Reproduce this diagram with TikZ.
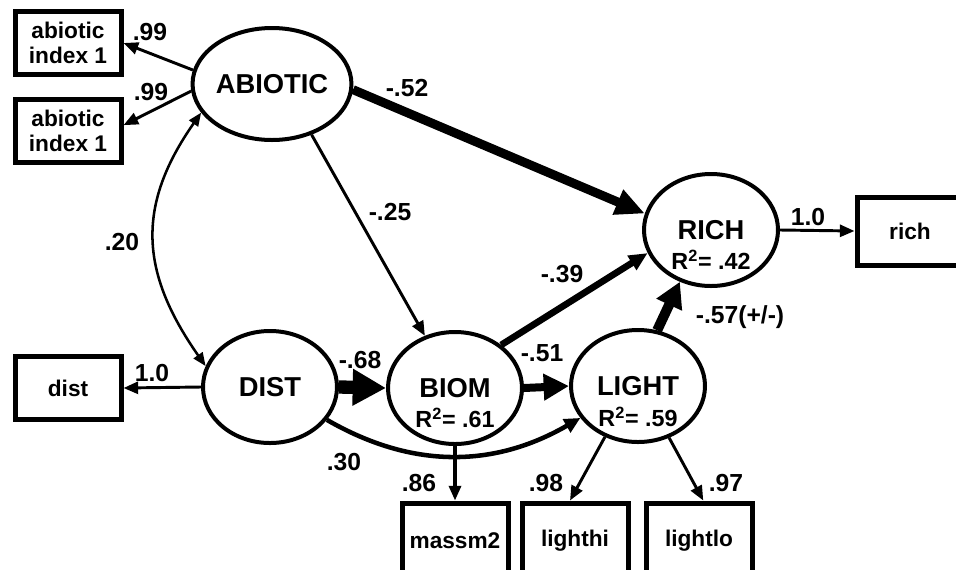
\documentclass[tikz,border=0pt]{standalone}
\usepackage{fontspec}
\setmainfont{Liberation Sans}
\usetikzlibrary{arrows.meta,calc,shapes.geometric}

\begin{document}
\begin{tikzpicture}[x=0.75pt,y=-0.75pt,
  latent/.style={ellipse, draw, line width=3pt, minimum width=100.5pt,
    minimum height=84pt, inner sep=0pt,
    font=\fontsize{20.5}{23}\selectfont\bfseries},
  obs/.style={rectangle, draw, line width=3.75pt, minimum width=79.5pt,
    minimum height=47.25pt, inner sep=0pt, align=center,
    font=\fontsize{17}{19}\selectfont\bfseries},
  rsq/.style={inner sep=0pt, font=\fontsize{17.5}{19}\selectfont\bfseries},
  coef/.style={inner sep=0pt, font=\fontsize{18.5}{20}\selectfont\bfseries},
  thinarrow/.style={line width=2.2pt, -{Triangle[length=11pt,width=9pt]}},
  covarrow/.style={line width=1.9pt,
    {Triangle[length=10pt,width=8pt]}-{Triangle[length=10pt,width=8pt]}},
  pathA/.style={line width=6.75pt, -{Triangle[length=22pt,width=19pt]}},
  pathB/.style={line width=5pt, -{Triangle[length=14pt,width=12pt]}},
  pathC/.style={line width=7.5pt, -{Triangle[length=19pt,width=20pt]}},
  pathD/.style={line width=10pt, -{Triangle[length=25pt,width=26pt]}},
  pathE/.style={line width=6pt, -{Triangle[length=19pt,width=19pt]}},
  pathF/.style={line width=3.4pt, -{Triangle[length=12pt,width=11pt]}},
  pathG/.style={line width=2.4pt, -{Triangle[length=11pt,width=9pt]}},
]
\useasboundingbox (0,0) rectangle (956,569);

% latent variables
\node[latent] (abiotic) at (272,84) {ABIOTIC};
\node[latent] (rich) at (711,230) {RICH};
\node[latent] (dist) at (270,387) {DIST};
\node[latent] (biom) at (455,388) {BIOM};
\node[latent] (light) at (638,386) {LIGHT};

% explained variance
\node[rsq] (rich-r2) at ($(rich)+(0,30)$) {R\textsuperscript{2}= .42};
\node[rsq] (biom-r2) at ($(biom)+(0,30)$) {R\textsuperscript{2}= .61};
\node[rsq] (light-r2) at ($(light)+(0,31)$) {R\textsuperscript{2}= .59};

% indicators
\node[obs] (ind1) at (68,43) {abiotic\\index 1};
\node[obs] (ind2) at (68,131) {abiotic\\index 1};
\node[obs] (distbox) at (68,388) {dist};
\node[obs, minimum height=51pt] (richbox) at (910,231) {rich};
\node[obs, minimum height=57pt] (massm2) at (455,541) {massm2};
\node[obs, minimum height=57pt] (lighthi) at (575,541) {lighthi};
\node[obs, minimum height=57pt] (lightlo) at (699,541) {lightlo};

% measurement paths
\draw[thinarrow] (abiotic.170) -- (ind1.east);
\draw[thinarrow] (abiotic.185) -- (ind2.6);
\draw[thinarrow] (rich.east) -- (richbox.west);
\draw[thinarrow] (dist.west) -- (distbox.east);
\draw[pathG] (biom.south) -- (massm2.north);
\draw[thinarrow] (light.237) -- (lighthi.97);
\draw[thinarrow] (light.-59) -- (lightlo.84);

% structural paths
\draw[covarrow] (abiotic.202) to[out=235,in=125,looseness=1.15] (dist.162);
\draw[thinarrow] (abiotic.-52) -- (biom.120);
\draw[pathA] (abiotic.-4) -- (rich.166);
\draw[pathB] (biom.43) -- (rich.200);
\draw[pathC] (light.71) -- (rich.239);
\draw[pathD] (dist.east) -- (biom.west);
\draw[pathE] (biom.east) -- (light.west);
\draw[pathF] (dist.-30) to[out=-30,in=210] (light.209);

% path coefficients
\node[coef] (c-ind1) at (150,32) {.99};
\node[coef] (c-ind2) at (151,92) {.99};
\node[coef] (c-ar) at (407,88) {-.52};
\node[coef] (c-ab) at (390,212) {-.25};
\node[coef] (c-ad) at (122,242) {.20};
\node[coef] (c-br) at (562,274) {-.39};
\node[coef] (c-rich) at (808,217) {1.0};
\node[coef] (c-lr) at (740,317) {-.57(+/-)};
\node[coef] (c-bl) at (542,353) {-.51};
\node[coef] (c-db) at (360,360) {-.68};
\node[coef] (c-dist) at (152,373) {1.0};
\node[coef] (c-dl) at (344,462) {.30};
\node[coef] (c-mass) at (419,483) {.86};
\node[coef] (c-hi) at (546,483) {.98};
\node[coef] (c-lo) at (726,483) {.97};
\end{tikzpicture}
\end{document}
